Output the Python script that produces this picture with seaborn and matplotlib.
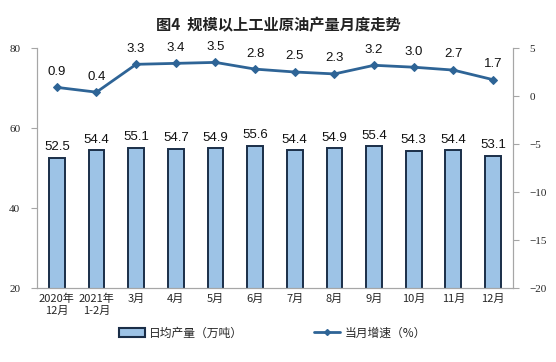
import numpy as np
import pandas as pd
import matplotlib
matplotlib.use('Agg')
import matplotlib.pyplot as plt
import seaborn as sns
from matplotlib.patches import Patch
from matplotlib.lines import Line2D

months = ['2020年\n12月', '2021年\n1-2月', '3月', '4月', '5月', '6月',
          '7月', '8月', '9月', '10月', '11月', '12月']
daily_output = [52.5, 54.4, 55.1, 54.7, 54.9, 55.6, 54.4, 54.9, 55.4, 54.3, 54.4, 53.1]
growth = [0.9, 0.4, 3.3, 3.4, 3.5, 2.8, 2.5, 2.3, 3.2, 3.0, 2.7, 1.7]

sns.set_style('white')
plt.rcParams['font.family'] = ['Noto Sans CJK SC', 'DejaVu Sans']

bar_color = '#9DC3E6'
edge_color = '#1A2E48'
line_color = '#2E6496'

df = pd.DataFrame({'month': months, 'output': daily_output, 'growth': growth})

fig = plt.figure(figsize=(5.56, 3.62), dpi=100)
ax = fig.add_axes([0.0665, 0.2044, 0.856, 0.663])

sns.barplot(data=df, x='month', y='output', ax=ax, color=bar_color,
            edgecolor=edge_color, linewidth=1.4, width=0.4, saturation=1)
ax.set_ylim(20, 80)
ax.set_yticks([20, 40, 60, 80])
ax.set_xlim(-0.5, len(months) - 0.5)
ax.set_xlabel('')
ax.set_ylabel('')
for i, v in enumerate(daily_output):
    ax.text(i, v + 1.2, f'{v:.1f}', ha='center', va='bottom', fontsize=9.5,
            family='Liberation Sans', color='#111111')

ax2 = ax.twinx()
xs = np.arange(len(months))
sns.lineplot(x=xs, y=growth, ax=ax2, color=line_color, linewidth=2,
             marker='D', markersize=4, markeredgecolor=line_color)
ax2.set_ylim(-20, 5)
ax2.set_yticks([-20, -15, -10, -5, 0, 5])
ax2.set_xlim(-0.5, len(months) - 0.5)
for i, v in enumerate(growth):
    ax2.text(i, v + 1.0, f'{v:.1f}', ha='center', va='bottom', fontsize=9.5,
             family='Liberation Sans', color='#111111')

for a in (ax, ax2):
    for s in a.spines.values():
        s.set_color('#A6A6A6')
        s.set_linewidth(0.8)
    a.spines['top'].set_visible(False)
    a.tick_params(axis='y', length=4, color='#A6A6A6', labelsize=8, pad=8)
    for lbl in a.get_yticklabels():
        lbl.set_family('Liberation Serif')

ax.tick_params(axis='x', length=0, labelsize=8, pad=4)
ax.tick_params(axis='y', direction='out')
ax2.tick_params(axis='y', direction='out')

fig.text(0.5, 0.93, '图4  规模以上工业原油产量月度走势', ha='center', va='center',
         fontsize=11, fontweight='bold', color='#222222')

handles = [Patch(facecolor=bar_color, edgecolor=edge_color, linewidth=1.5),
           Line2D([0], [0], color=line_color, linewidth=2, marker='D', markersize=3)]
fig.legend(handles, ['日均产量（万吨）', '当月增速（%）'], loc='center',
           bbox_to_anchor=(0.49, 0.08), ncol=2, frameon=False, fontsize=8.5,
           handlelength=2.2, columnspacing=6, handletextpad=0.4)

fig.savefig('out.png', dpi=100)
